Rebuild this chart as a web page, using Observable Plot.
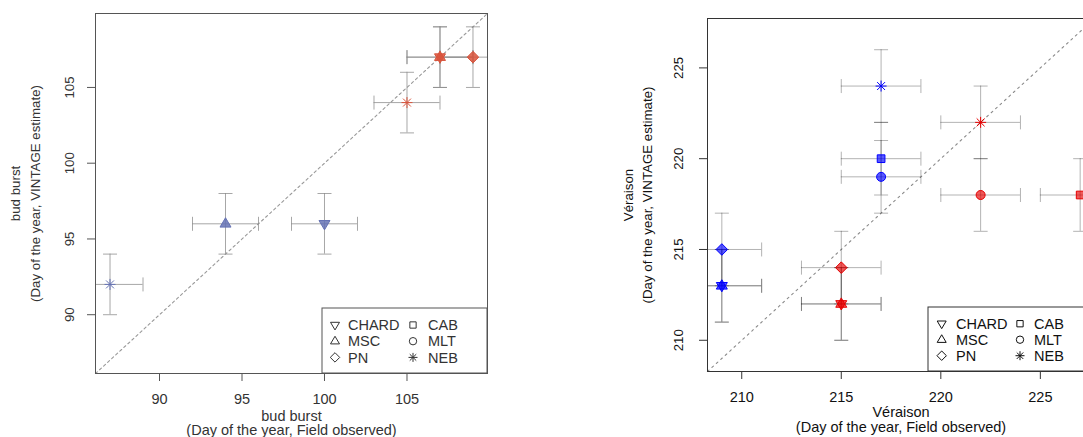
<!DOCTYPE html>
<html>
<head>
<meta charset="utf-8">
<script src="https://cdn.jsdelivr.net/npm/d3@7"></script>
<script src="https://cdn.jsdelivr.net/npm/@observablehq/plot@0.6"></script>
<style>
  html, body { margin: 0; padding: 0; background: #fff; overflow: hidden; width: 1083px; height: 437px; }
  #wrap { position: relative; width: 1083px; height: 437px; overflow: hidden; }
  .panel { position: absolute; top: 0; }
</style>
</head>
<body>
<div id="wrap"></div>
<script>
// ---------------- data ----------------
const varieties = ["CHARD", "MSC", "PN", "CAB", "MLT", "NEB"];
const legendCol1 = ["CHARD", "MSC", "PN"];
const legendCol2 = ["CAB", "MLT", "NEB"];
const sites = ["site A", "site B"];

// bud burst panel
const budVariety   = ["NEB", "MSC", "CHARD", "NEB", "CHARD", "MSC", "PN"];
const budSite      = ["site A", "site A", "site A", "site B", "site B", "site B", "site B"];
const budObserved  = [87, 94, 100, 105, 107, 107, 109];
const budEstimated = [92, 96, 96, 104, 107, 107, 107];
const budObsErr    = [2, 2, 2, 2, 2, 2, 2];
const budEstErr    = [2, 2, 2, 2, 2, 2, 2];
const budTicks     = [90, 95, 100, 105];
const budXTitle    = ["bud burst", "(Day of the year, Field observed)"];
const budYTitle    = ["bud burst", "(Day of the year, VINTAGE estimate)"];

// véraison panel
const verVariety   = ["NEB", "CAB", "MLT", "PN", "CHARD", "MSC", "NEB", "MLT", "CAB", "PN", "CHARD", "MSC"];
const verSite      = ["site A", "site A", "site A", "site A", "site A", "site A", "site B", "site B", "site B", "site B", "site B", "site B"];
const verObserved  = [217, 217, 217, 209, 209, 209, 222, 222, 227, 215, 215, 215];
const verEstimated = [224, 220, 219, 215, 213, 213, 222, 218, 218, 214, 212, 212];
const verObsErr    = [2, 2, 2, 2, 2, 2, 2, 2, 2, 2, 2, 2];
const verEstErr    = [2, 2, 2, 2, 2, 2, 2, 2, 2, 2, 2, 2];
const verTicks     = [210, 215, 220, 225];
const verXTitle    = ["Véraison", "(Day of the year, Field observed)"];
const verYTitle    = ["Véraison", "(Day of the year, VINTAGE estimate)"];

// ---------------- symbols ----------------
const rad = s => Math.sqrt(s / Math.PI);
const symbols = {
  CHARD: {draw(c, s) { const r = rad(s); c.moveTo(-r, -0.6 * r); c.lineTo(r, -0.6 * r); c.lineTo(0, 1.1 * r); c.closePath(); }},
  MSC:   {draw(c, s) { const r = rad(s); c.moveTo(-r, 0.6 * r); c.lineTo(r, 0.6 * r); c.lineTo(0, -1.1 * r); c.closePath(); }},
  PN:    {draw(c, s) { const r = rad(s) * 1.05; c.moveTo(0, -r); c.lineTo(r, 0); c.lineTo(0, r); c.lineTo(-r, 0); c.closePath(); }},
  CAB:   {draw(c, s) { const h = rad(s) * 0.7; c.rect(-h, -h, 2 * h, 2 * h); }},
  MLT:   {draw(c, s) { const r = rad(s) * 0.82; c.moveTo(r, 0); c.arc(0, 0, r, 0, 2 * Math.PI); }},
  NEB:   {draw(c, s) { const r = rad(s), d = r * 0.72;
           c.moveTo(-r, 0); c.lineTo(r, 0); c.moveTo(0, -r); c.lineTo(0, r);
           c.moveTo(-d, -d); c.lineTo(d, d); c.moveTo(-d, d); c.lineTo(d, -d); }}
};
const capH = {draw(c, s) { const r = rad(s); c.moveTo(-r, 0); c.lineTo(r, 0); }};
const capV = {draw(c, s) { const r = rad(s); c.moveTo(0, -r); c.lineTo(0, r); }};

const FONT = "'Liberation Sans', Arial, Helvetica, sans-serif";
const FS_H = 14.5;   // horizontal text
const FS_V = 13.3;   // rotated (vertical) text

function panel(cfg) {
  const rows = cfg.obs.map((x, i) => ({
    variety: cfg.variety[i], site: cfg.site[i], x, y: cfg.est[i], ex: cfg.obsErr[i], ey: cfg.estErr[i]
  }));
  const [lo, hi] = d3.extent([...cfg.obs, ...cfg.est]);
  const pad = (hi - lo) * 0.04;
  const lim = [lo - pad, hi + pad];
  const bar = {stroke: cfg.barColor, strokeOpacity: cfg.barOpacity, strokeWidth: 1, clip: true};
  const cap = {...bar, fill: "none", r: 7};

  const svg = Plot.plot({
    width: cfg.width, height: 437,
    marginLeft: cfg.ml, marginRight: cfg.mr, marginTop: cfg.mt, marginBottom: cfg.mb,
    x: {domain: lim, label: null},
    y: {domain: lim, label: null},
    color: {domain: sites, range: cfg.colors},
    style: {fontFamily: FONT, fontSize: FS_H + "px", color: cfg.textColor, background: "white", overflow: "visible"},
    marks: [
      Plot.line(lim, {x: d => d, y: d => d, stroke: cfg.dashColor, strokeDasharray: cfg.dash, strokeWidth: 1.1}),
      Plot.ruleY(rows, {y: "y", x1: d => d.x - d.ex, x2: d => d.x + d.ex, ...bar}),
      Plot.ruleX(rows, {x: "x", y1: d => d.y - d.ey, y2: d => d.y + d.ey, ...bar}),
      Plot.dot(rows, {x: d => d.x - d.ex, y: "y", symbol: capV, ...cap}),
      Plot.dot(rows, {x: d => d.x + d.ex, y: "y", symbol: capV, ...cap}),
      Plot.dot(rows, {x: "x", y: d => d.y - d.ey, symbol: capH, ...cap}),
      Plot.dot(rows, {x: "x", y: d => d.y + d.ey, symbol: capH, ...cap}),
      ...varieties.map(v => Plot.dot(rows, {
        filter: d => d.variety === v, x: "x", y: "y", symbol: symbols[v], r: cfg.r,
        stroke: "site", fill: v === "NEB" ? "none" : "site", fillOpacity: cfg.fillOpacity, strokeWidth: 1
      })),
      Plot.frame({stroke: cfg.axisColor}),
      Plot.axisX({ticks: cfg.ticks, tickSize: 8, tickPadding: 12, label: null, stroke: cfg.axisColor}),
      Plot.axisY({ticks: cfg.ticks, tickSize: 8, tickPadding: cfg.yTickPad, tickRotate: -90, label: null,
                  stroke: cfg.axisColor, fontSize: FS_V}),
      Plot.text([cfg.xTitle[0]], {text: d => d, frameAnchor: "bottom", dy: cfg.xTitleDy[0], lineAnchor: "middle", textAnchor: "middle"}),
      Plot.text([cfg.xTitle[1]], {text: d => d, frameAnchor: "bottom", dy: cfg.xTitleDy[1], lineAnchor: "middle", textAnchor: "middle"}),
      Plot.text([cfg.yTitle[0]], {text: d => d, frameAnchor: "left", dx: cfg.yTitleDx[0], rotate: -90, lineAnchor: "middle", textAnchor: "middle", fontSize: FS_V}),
      Plot.text([cfg.yTitle[1]], {text: d => d, frameAnchor: "left", dx: cfg.yTitleDx[1], rotate: -90, lineAnchor: "middle", textAnchor: "middle", fontSize: FS_V})
    ]
  });

  // legend (key for the symbols)
  const L = cfg.legend;
  const g = d3.select(svg).append("g")
    .attr("font-family", FONT).attr("font-size", FS_H + "px").attr("fill", cfg.textColor)
    .attr("text-anchor", "start");
  g.append("rect").attr("x", L.x).attr("y", L.y).attr("width", L.w).attr("height", L.h)
    .attr("fill", "white").attr("stroke", cfg.axisColor);
  [[legendCol1, L.sx1, L.tx1], [legendCol2, L.sx2, L.tx2]].forEach(([col, sx, tx]) => {
    col.forEach((v, i) => {
      const yy = L.row0 + i * L.dy;
      g.append("path").attr("transform", `translate(${sx},${yy})`)
        .attr("d", d3.symbol(symbols[v], Math.PI * L.r * L.r)())
        .attr("fill", "none").attr("stroke", cfg.textColor).attr("stroke-width", 1);
      g.append("text").attr("x", tx).attr("y", yy).attr("dy", "0.36em").attr("text-anchor", "start").text(v);
    });
  });

  svg.classList.add("panel");
  svg.style.left = cfg.left + "px";
  return svg;
}

const wrap = document.getElementById("wrap");
wrap.append(panel({
  left: 0, width: 540, ml: 95, mr: 53, mt: 13, mb: 64,
  variety: budVariety, site: budSite, obs: budObserved, est: budEstimated, obsErr: budObsErr, estErr: budEstErr,
  ticks: budTicks, xTitle: budXTitle, yTitle: budYTitle, xTitleDy: [42.5, 56.5], yTitleDx: [-80, -60], yTickPad: 14,
  colors: ["#6673b5", "#d9543c"], fillOpacity: 0.85, r: 5.5,
  barColor: "#8a8a8a", barOpacity: 0.75, dash: "2.5,3", dashColor: "#999",
  axisColor: "#555", textColor: "#333",
  legend: {x: 322, y: 308, w: 165, h: 65, row0: 325, dy: 16.2, sx1: 335, tx1: 348, sx2: 413, tx2: 428, r: 4.5}
}));
wrap.append(panel({
  left: 540, width: 565, ml: 167, mr: 11, mt: 18, mb: 66,
  variety: verVariety, site: verSite, obs: verObserved, est: verEstimated, obsErr: verObsErr, estErr: verEstErr,
  ticks: verTicks, xTitle: verXTitle, yTitle: verYTitle, xTitleDy: [41, 55.5], yTitleDx: [-79, -60], yTickPad: 17,
  colors: ["#0000ff", "#e60000"], fillOpacity: 0.65, r: 5.5,
  barColor: "#000", barOpacity: 0.3, dash: "2,4", dashColor: "#8a8a8a",
  axisColor: "#333", textColor: "#111",
  legend: {x: 388, y: 307, w: 166, h: 64, row0: 323.7, dy: 16, sx1: 401.7, tx1: 416, sx2: 480, tx2: 494, r: 4.5}
}));
</script>
</body>
</html>
